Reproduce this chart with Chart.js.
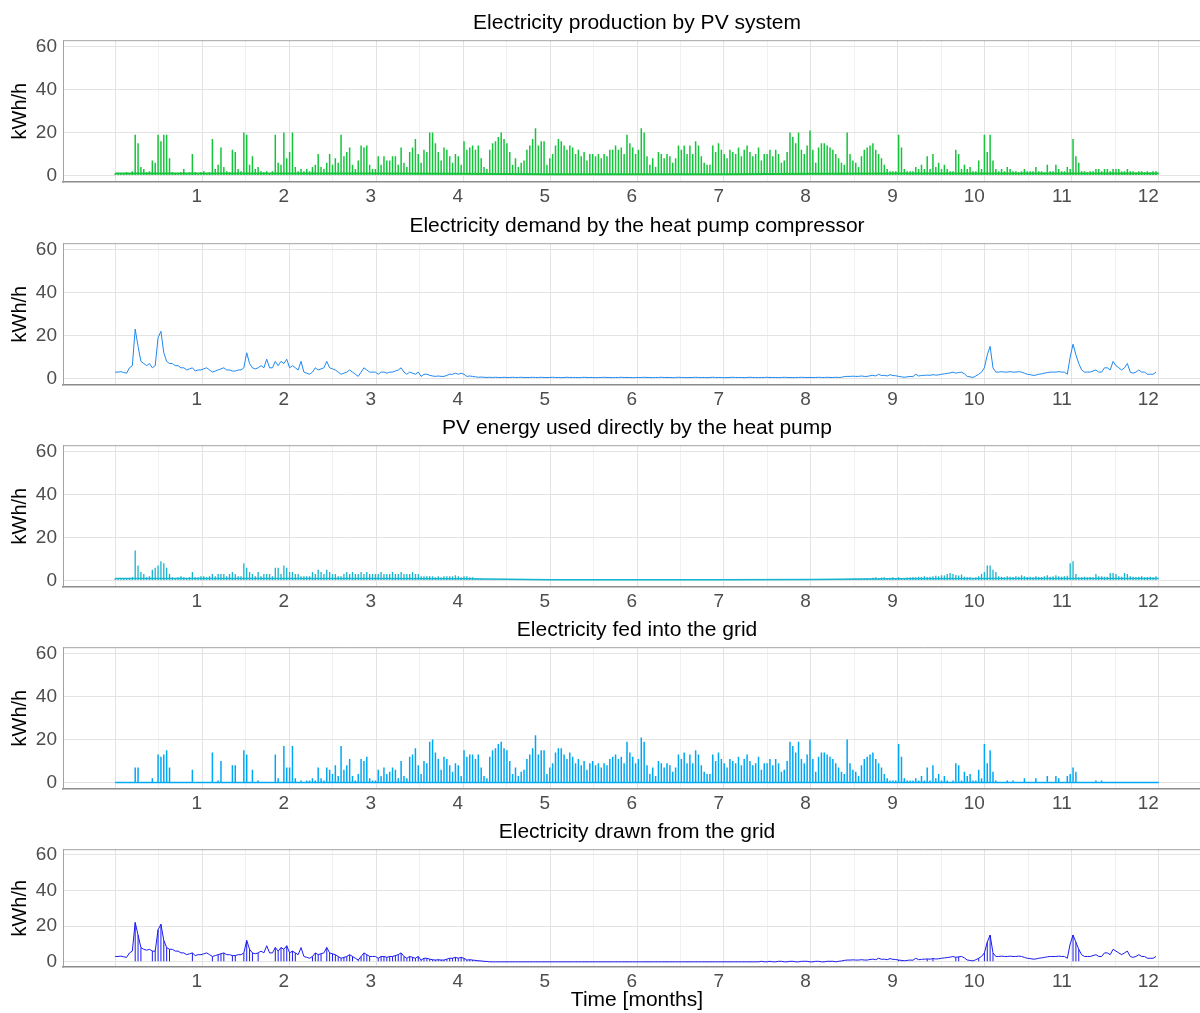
<!DOCTYPE html>
<html>
<head>
<meta charset="utf-8">
<title>Heat pump and PV energy flows</title>
<script src="https://cdn.jsdelivr.net/npm/chart.js@4.4.1/dist/chart.umd.min.js"></script>
<style>
  html, body { margin: 0; padding: 0; background: #fff; overflow: hidden; }
  body { width: 1200px; height: 1013px; position: relative; }
  .panel { position: absolute; left: 0; width: 1215px; }
  #pvPanel { top: 11.4px; height: 197px; }
  #demandPanel { top: 214.4px; height: 197px; }
  #directPanel { top: 416.4px; height: 197px; }
  #feedPanel { top: 618.4px; height: 197px; }
  #drawPanel { top: 819.9px; height: 193.2px; }
</style>
</head>
<body>
<div class="panel" id="pvPanel"><canvas id="chartPv"></canvas></div>
<div class="panel" id="demandPanel"><canvas id="chartDemand"></canvas></div>
<div class="panel" id="directPanel"><canvas id="chartDirect"></canvas></div>
<div class="panel" id="feedPanel"><canvas id="chartFeed"></canvas></div>
<div class="panel" id="drawPanel"><canvas id="chartDraw"></canvas></div>

<script>
const DAYS = 365;
const MONTHS = 12;

const MONTH_TICKS = [1, 2, 3, 4, 5, 6, 7, 8, 9, 10, 11, 12];
const MONTH_GRID = [0, 0.5, 1, 1.5, 2, 2.5, 3, 3.5, 4, 4.5, 5, 5.5, 6, 6.5, 7, 7.5, 8, 8.5, 9, 9.5, 10, 10.5, 11, 11.5, 12];
const Y_TICKS = [0, 20, 40, 60];
const Y_GRID = [0, 10, 20, 30, 40, 50, 60];

// daily peak of PV output, kWh/h
const pvProduction = [
  1,1,1,1,1.5,1,2,19,15,4,3,1.5,2,7,6,19,16,19,19,8,1.5,1,1,1.5,3,1,1.5,10,1.5,1,
  1.5,2,1,1.5,17,3,5,13,4,2,1.5,12,11,3,2,20,19,5,9,3,4,2,1.5,2,1,2,19,6,5,20,8,
  11,20,4,2,3,2,3,2,4,5,10,4,3,6,10,5,8,6,19,9,11,13,5,3,7,14,13,14,5,3,
  3,9,5,9,7,7,9,9,5,13,6,4,11,13,17,10,6,12,11,20,20,15,11,7,13,12,9,6,10,9,5,
  16,12,13,14,12,14,8,4,3,12,15,16,18,20,17,15,11,5,8,4,6,7,12,14,17,22,14,16,16,5,
  8,10,14,17,16,14,12,14,13,10,12,9,11,7,10,10,9,10,8,10,9,12,12,14,12,13,10,19,15,13,10,
  12,22,20,9,5,8,4,11,10,8,10,9,6,8,14,12,14,10,14,10,16,14,9,6,5,5,14,11,15,12,
  10,8,12,11,10,13,9,12,14,11,9,10,13,7,10,10,12,9,12,10,6,7,11,20,18,15,20,12,10,14,21,
  12,6,13,15,15,14,13,12,10,8,6,5,20,10,7,6,4,9,12,13,14,15,12,10,8,5,3,2,2,2,
  19,13,3,2,2,2,4,3,5,3,9,3,10,4,6,3,5,3,2,2,12,10,3,5,3,4,2,2,7,3,19,
  11,19,7,3,2,3,2,4,3,2,2,1.5,2,3,2,2,2,4,2,2,1.5,5,2,2,5,3,2,2,4,3,
  17,9,6,2,2,1.5,2,2,3,3,2,3,3,2,3,3,3,2,2,3,2,2,1.5,2,2,1.5,2,1.5,2,2
];
// night-time level under the PV spikes, one value per month boundary
const pvFloor = [1, 1, 1, 1, 0.8, 0.6, 0.6, 0.6, 0.8, 1, 1, 1, 1];

// daily mean of the compressor demand
const hpDemand = [
  3,3,3.2,2.8,2.5,5,6,23,15,8,7,6,7,5,6,19,22,12,8,7,7,6,6,5,5,4,4.5,5,3.5,4,
  4,4.5,5,4,3,3.5,4,4.5,5,4,4,3.5,3.5,4,4,5,12,7,5,4.5,5,6,5,9,5,5,8,6,8,7,9,
  5,6,5,4,8,3,2.5,2,3,5,4,4.5,5,8,5,4.5,4,3,2,2.5,3,4,3,2,1,3,5,4,3,3,
  3,2,3,3,2.5,3,3,3.5,4,5,3,2,3,2.5,2,3,1,2,2,1.5,1.2,1,1.2,1,1,1.5,2,2,2.5,2,2.5,
  2,1,1.2,1,0.8,0.6,0.7,0.6,0.5,0.6,0.5,0.6,0.5,0.5,0.6,0.5,0.5,0.6,0.5,0.5,0.6,0.5,0.5,0.5,0.6,0.5,0.5,0.6,0.5,0.5,
  0.5,0.6,0.5,0.5,0.4,0.5,0.6,0.5,0.5,0.5,0.4,0.5,0.6,0.5,0.5,0.5,0.4,0.5,0.5,0.6,0.5,0.5,0.4,0.5,0.5,0.6,0.5,0.5,0.5,0.4,0.5,
  0.5,0.5,0.6,0.5,0.5,0.4,0.5,0.5,0.6,0.5,0.5,0.5,0.4,0.5,0.6,0.5,0.5,0.4,0.5,0.5,0.6,0.5,0.5,0.5,0.4,0.5,0.6,0.5,0.5,0.5,
  0.4,0.5,0.5,0.6,0.5,0.5,0.5,0.4,0.5,0.6,0.5,0.5,0.4,0.5,0.5,0.6,0.5,0.5,0.5,0.4,0.5,0.6,0.5,0.5,0.4,0.5,0.5,0.6,0.5,0.5,0.5,
  0.5,0.5,0.6,0.5,0.5,0.6,0.5,0.5,0.6,0.5,0.6,0.9,1,1,1.1,1,1,1.2,1,1,1.3,1.5,1.2,2,1.4,1.5,1.2,1.8,1.4,1.3,
  1,0.8,0.6,0.8,1,0.9,2,1.2,1.4,1.5,1.6,1.5,1.8,1.6,1.7,2,2.2,2.4,2.6,3,2.5,2.8,3,2.2,1,0.8,0.5,1.2,2,3,5,
  11,15,5,3,3,3.2,3,3,3.2,3,3,3.2,3,2.5,2,1.8,1.5,1.6,2,2.2,2.5,2.8,3,3,3,3.2,3,3,2,10,
  16,11,7,4,3,3,3,3.5,4,3,3,5,5,4,8,6,5,4,5,7,3,2.5,3,4,3,3,2,2,2,3
];

// daily peak of PV energy taken directly by the heat pump
const pvDirect = [
  1,1,1,1,1,1,1.5,14,7,4,3,1.5,2,5,6,7,9,8,6,3,1.5,1,1.5,2,1.5,1,1.5,4,1.5,1.5,
  2,2,1.5,2,3,2,3,3,3,2,3,4,3,2,2,8,6,4,3,2,4,2,3,3,3,2,6,6,3,7,6,
  4,4,3,3,2,2,2,2,4,3,5,4,3,5,4,3,3,2,2,3,4,3,4,3,3,4,3,4,3,3,
  3,3,4,3,3,3,4,3,3,4,3,3,3,4,3,3,2,2,2,2,2,1.5,2,1.5,2,2,2,2,2.5,2,1.5,
  2,2,1.5,1.5,1,1,0.8,0.7,0.6,0.6,0.5,0.6,0.5,0.5,0.5,0.5,0.5,0.6,0.5,0.5,0.5,0.5,0.5,0.5,0.5,0.6,0.5,0.5,0.5,0.5,
  0.5,0.5,0.6,0.5,0.4,0.5,0.5,0.6,0.5,0.5,0.4,0.5,0.5,0.5,0.6,0.5,0.5,0.4,0.5,0.5,0.6,0.5,0.5,0.5,0.4,0.5,0.5,0.6,0.5,0.5,0.5,
  0.5,0.6,0.5,0.5,0.4,0.5,0.5,0.5,0.6,0.5,0.5,0.4,0.5,0.5,0.5,0.6,0.5,0.5,0.4,0.5,0.5,0.6,0.5,0.5,0.5,0.4,0.5,0.5,0.6,0.5,
  0.5,0.5,0.4,0.5,0.6,0.5,0.5,0.5,0.4,0.5,0.6,0.5,0.5,0.5,0.4,0.5,0.5,0.6,0.5,0.5,0.5,0.4,0.5,0.6,0.5,0.5,0.5,0.4,0.5,0.6,0.5,
  0.5,0.5,0.6,0.5,0.5,0.6,0.5,0.5,0.6,0.5,0.6,0.7,0.8,1,1,0.9,1,1.1,1,1.2,1,1.3,1.5,1.2,1.4,1.5,1.2,1.3,1.5,1.2,
  1.5,1.2,1,1.4,1.5,1.6,1.5,1.8,1.6,2,1.7,1.8,2,2.2,2,2.5,2.3,3,3.5,3,2.6,2.4,2.8,1.8,1.5,1.5,1.2,1.4,2,3,4,
  7,7,5,4,2,1.8,1.5,2,1.8,1.6,2,1.8,2.5,2,1.6,1.8,1.5,2,1.7,1.6,2,2.5,1.8,2,2.5,2,1.8,2,2.2,8,
  9,3,1.5,1.5,1.8,1.5,1.6,1.5,3,2,2,1.8,1.6,3.5,3.5,3,2,1.8,3.5,3,2,1.8,1.6,1.8,2,1.5,1.6,1.8,1.5,2
];
const pvDirectFloor = [1, 1, 1, 1, 0.8, 0.4, 0.4, 0.4, 0.5, 0.8, 1, 1, 1];

// daily peak of the surplus exported to the grid
const gridFeedIn = [
  0,0,0,0,0,0,0,7,7,0,0,0,0,2,0,13,12,13,15,7,0,0,0,0,0,0,0,6,0,0,
  0,0,0,0,14,0,1,10,0,0,0,8,8,0,0,15,13,0,6,0,1,0,0,0,0,0,13,2,0,17,7,
  7,17,2,0,1,0,1,1,2,1,7,2,1,7,6,4,8,3,17,6,8,11,3,1,4,11,10,12,2,1,
  1,6,3,7,4,5,7,6,2,10,3,2,12,13,16,8,4,10,9,19,20,14,11,6,12,11,8,5,9,8,3,
  15,12,13,13,11,13,7,3,2,12,15,16,18,19,16,15,10,4,7,3,5,6,11,13,16,22,13,15,15,4,
  7,9,14,16,16,13,11,14,12,9,11,8,10,6,9,10,8,9,7,9,8,11,12,13,11,12,9,19,14,12,9,
  11,21,19,8,4,7,3,10,9,7,9,8,5,7,13,11,14,9,13,9,15,13,8,5,4,4,13,10,14,11,
  9,7,11,10,9,12,8,11,13,10,8,9,12,6,9,9,11,8,11,9,5,6,10,19,17,14,19,11,9,13,20,
  11,5,12,14,14,13,12,11,9,7,5,4,20,9,6,5,3,8,11,12,13,14,11,9,7,4,2,1,1,1,
  18,12,2,1,1,1,2,1,3,1,7,1,8,2,4,1,3,1,0,1,9,8,1,5,3,4,1,1,6,2,18,
  9,15,5,1,0,0,0,1,0,1,0,0,0,2,0,0,0,2,0,0,0,3,0,0,3,2,0,0,3,4,
  7,5,0,0,0,0,0,0,1,0,1,0,0,0,0,0,0,0,0,0,0,0,0,0,0,0,0,0,0,0
];
const feedInFloor = [0, 0, 0, 0, 0, 0, 0, 0, 0, 0, 0, 0, 0];

// daily level of the power bought from the grid
const gridDraw = [
  3,3,3.2,2.8,2.5,5,6,22,15,8,7,6.5,7,6,6,18,21,12,8,7,7,6,6,5,5,4,4.5,5,3.5,4,
  4,4.5,5,4,3,3.5,4,4.5,5,4,4,3.5,3.5,4,4,5,12,7,5,4.5,5,6,5,9,5,5,8,6,8,7,9,
  5,6,5,4,8,3,2.5,2,3,5,4,4.5,5,8,5,4.5,4,3,2,2.5,3,4,3,2,1,3,5,4,3,3,
  3,2,3,3,2.5,3,3,3.5,4,5,3,2,3,2.5,2,3,1,2,2,1.5,1.2,1,1.2,1,1,1.5,2,2,2.5,2,2.5,
  2,1,1.2,1,0.8,0.6,0.5,0.3,0.2,0,0,0,0,0,0,0,0,0,0,0,0,0,0,0,0,0,0,0,0,0,
  0,0,0,0,0,0,0,0,0,0,0,0,0,0,0,0,0,0,0,0,0,0,0,0,0,0,0,0,0,0,0,
  0,0,0,0,0,0,0,0,0,0,0,0,0,0,0,0,0,0,0,0,0,0,0,0,0,0,0,0,0,0,
  0,0,0,0,0,0,0,0,0,0,0,0,0,0.3,0,0,0.3,0,0,0.3,0.3,0,0,0.3,0.3,0,0,0.3,0.3,0.3,0,
  0,0.3,0.3,0,0,0.3,0.3,0.3,0,0.3,0.5,0.8,1,1,1.1,1,1,1.2,1,1,1.3,1.5,1.2,2,1.4,1.5,1.2,1.8,1.4,1.3,
  1,0.8,0.6,0.8,1,0.9,2,1.2,1.4,1.5,1.6,1.5,1.8,1.6,1.7,2,2.2,2.4,2.6,3,2.5,2.8,3,2.2,1,0.8,0.5,1.2,2,3,5,
  11,15,5,3,3,3.2,3,3,3.2,3,3,3.2,3,2.5,2,1.8,1.5,1.6,2,2.2,2.5,2.8,3,3,3,3.2,3,3,2,10,
  15,11,7,4,3,3,3,3.5,4,3,3,5,5,4,7,6,5,4,5,6,3,2.5,3,4,3,3,2,2,2,3
];
// days on which the draw falls to zero around noon
const gridDrawDipDays = [
  7,8,9,13,14,15,16,17,18,19,27,34,36,37,38,41,42,45,46,47,48,50,56,57,58,59,60,61,62,63,
  69,70,71,72,74,75,76,77,78,79,80,81,82,83,85,86,87,88,89,92,93,94,95,96,97,98,99,100,
  101,102,103,104,105,106,107,108,109,110,111,112,113,114,115,116,117,118,119,120,121,
  122,123,124,125,126,127,128,274,275,284,286,294,295,302,304,305,306,307,335,336,337
];

const GRID_MAJOR = "#e3e3e3";
const GRID_MINOR = "#f1f1f1";
const TICK_COLOR = "#4d4d4d";

Chart.defaults.font.family = '"Liberation Sans", Arial, sans-serif';

const dayX = (i) => (i * MONTHS) / DAYS;
const dailyPoints = (values) => values.map((v, i) => ({ x: dayX(i), y: v }));
const monthlyPoints = (values) => values.map((v, i) => ({ x: i, y: v }));

const panelFrame = {
  id: "panelFrame",
  afterDraw(chart) {
    const { ctx, chartArea: a } = chart;
    ctx.save();
    ctx.strokeStyle = "#a3a3a3";
    ctx.lineWidth = 1;
    ctx.beginPath();
    ctx.moveTo(a.left, a.top + 0.5);
    ctx.lineTo(a.right - 0.5, a.top + 0.5);
    ctx.lineTo(a.right - 0.5, a.bottom);
    ctx.stroke();
    ctx.restore();
  },
};

function spikes(values, color, thickness) {
  return {
    type: "bar",
    data: dailyPoints(values),
    backgroundColor: color,
    borderWidth: 0,
    inflateAmount: 0,
    barThickness: thickness,
    order: 2,
  };
}

function trace(points, color, width) {
  return {
    type: "line",
    data: points,
    borderColor: color,
    borderWidth: width,
    pointRadius: 0,
    tension: 0,
    fill: false,
    order: 1,
  };
}

function makePanel(canvasId, titleText, datasets, xTitle) {
  const el = document.getElementById(canvasId);
  if (!el) return null;

  return new Chart(el, {
    type: "bar",
    data: { datasets },
    plugins: [panelFrame],
    options: {
      responsive: true,
      maintainAspectRatio: false,
      animation: false,
      events: [],
      layout: { padding: { left: 0, right: 4, top: 0, bottom: 0 } },
      plugins: {
        legend: { display: false },
        tooltip: { enabled: false },
        title: {
          display: true,
          text: titleText,
          fullSize: false,
          color: "#000",
          font: { size: 21, weight: "normal" },
          padding: { top: 0, bottom: 4 },
        },
      },
      scales: {
        x: {
          type: "linear",
          min: -0.6,
          max: 12.6,
          offset: false,
          afterBuildTicks: (axis) => {
            axis.ticks = MONTH_GRID.map((v) => ({ value: v }));
          },
          afterFit: (axis) => {
            axis.height = xTitle ? 46 : 26;
          },
          grid: {
            offset: false,
            drawTicks: false,
            lineWidth: 1,
            color: (c) => (c.tick && Number.isInteger(c.tick.value) ? GRID_MAJOR : GRID_MINOR),
          },
          border: { display: true, color: "#8c8c8c", width: 1.5 },
          ticks: {
            autoSkip: false,
            maxRotation: 0,
            align: "end",
            padding: 3,
            color: TICK_COLOR,
            font: { size: 19 },
            callback: (v) => (MONTH_TICKS.includes(v) ? String(v) : ""),
          },
          title: {
            display: !!xTitle,
            text: xTitle || "",
            color: "#000",
            font: { size: 21 },
            padding: { top: 0, bottom: 0 },
          },
        },
        y: {
          min: -3,
          max: 63,
          afterBuildTicks: (axis) => {
            axis.ticks = Y_GRID.map((v) => ({ value: v }));
          },
          afterFit: (axis) => {
            axis.width = 63;
          },
          grid: {
            drawTicks: false,
            lineWidth: 1,
            color: (c) => (c.tick && Y_TICKS.includes(c.tick.value) ? GRID_MAJOR : GRID_MINOR),
          },
          border: { display: true, color: "#a3a3a3", width: 1 },
          ticks: {
            padding: 6,
            color: TICK_COLOR,
            font: { size: 19 },
            callback: (v) => (Y_TICKS.includes(v) ? String(v) : ""),
          },
          title: {
            display: true,
            text: "kWh/h",
            color: "#000",
            font: { size: 20 },
            padding: { top: 8, bottom: 0 },
          },
        },
      },
    },
  });
}

document.addEventListener("DOMContentLoaded", function () {
  makePanel("chartPv", "Electricity production by PV system", [
    spikes(pvProduction, "#14c43a", 1.5),
    trace(monthlyPoints(pvFloor), "#14c43a", 2),
  ]);

  makePanel("chartDemand", "Electricity demand by the heat pump compressor", [
    trace(dailyPoints(hpDemand), "#1e88f0", 1),
  ]);

  makePanel("chartDirect", "PV energy used directly by the heat pump", [
    spikes(pvDirect, "#15b4cf", 1.3),
    trace(monthlyPoints(pvDirectFloor), "#15b4cf", 1.5),
  ]);

  makePanel("chartFeed", "Electricity fed into the grid", [
    spikes(gridFeedIn, "#00a8f3", 1.5),
    trace(monthlyPoints(feedInFloor), "#00a8f3", 1.5),
  ]);

  const dipBars = {
    type: "bar",
    data: gridDrawDipDays.map((d) => ({ x: dayX(d), y: [0, gridDraw[d]] })),
    backgroundColor: "#1a1af0",
    borderWidth: 0,
    inflateAmount: 0,
    barThickness: 1,
    order: 2,
  };
  makePanel(
    "chartDraw",
    "Electricity drawn from the grid",
    [dipBars, trace(dailyPoints(gridDraw), "#1a1af0", 1)],
    "Time [months]"
  );
});
</script>
</body>
</html>
